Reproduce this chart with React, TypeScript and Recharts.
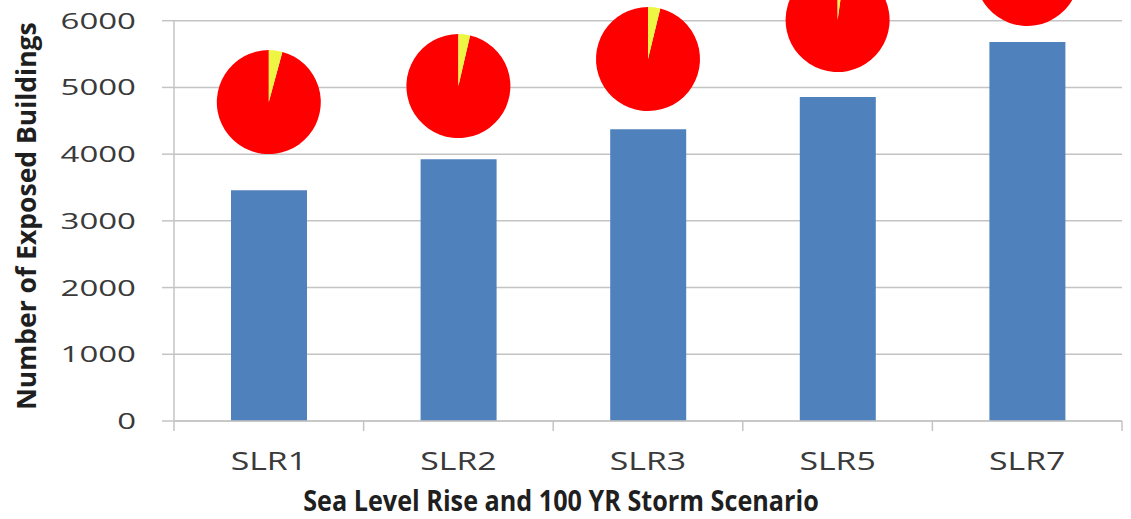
import { Bar, CartesianGrid, ComposedChart, Label, ReferenceLine, Scatter, Sector, XAxis, YAxis } from "recharts";

// scenarios on the x axis
const categories = ["SLR1", "SLR2", "SLR3", "SLR5", "SLR7"];
// exposed buildings per scenario (bar heights)
const buildings = [3460, 3925, 4375, 4855, 5680];
// vertical level (in building units) where each small pie sits
const pieLevel = [4780, 5020, 5425, 6010, 6700];
// yellow share of each pie, rest is red
const yellowShare = [0.042, 0.036, 0.038, 0.022, 0.03];
const yTicks = [0, 1000, 2000, 3000, 4000, 5000, 6000];

const rows = categories.map((name, i) => ({
  name,
  buildings: buildings[i],
  pie: pieLevel[i],
  yellow: yellowShare[i],
}));

const FONT = "'Open Sans', 'DejaVu Sans', sans-serif";
const GRID = "#C4C4C4";
const PIE_R = 52;

function YTick({ x, y, payload }: any) {
  return (
    <g transform={`translate(${x},${y})`}>
      <text transform="scale(1.5,1)" textAnchor="end" dy="0.36em" fontSize={22} fontFamily={FONT} fill="#3a3a3a">
        {payload.value}
      </text>
    </g>
  );
}

// label plus the boundary tick marks (Excel puts ticks between categories)
function XTick({ x, y, payload, index, width, visibleTicksCount }: any) {
  const band = width / visibleTicksCount;
  const top = y - 40;
  return (
    <g>
      <line x1={x - band / 2} x2={x - band / 2} y1={top} y2={top + 10} stroke={GRID} strokeWidth={1.5} />
      {index === visibleTicksCount - 1 && (
        <line x1={x + band / 2} x2={x + band / 2} y1={top} y2={top + 10} stroke={GRID} strokeWidth={1.5} />
      )}
      <g transform={`translate(${x},${y})`}>
        <text transform="scale(1.3,1)" textAnchor="middle" dy="0.36em" fontSize={26} fontFamily={FONT} fill="#3a3a3a">
          {payload.value}
        </text>
      </g>
    </g>
  );
}

function PieMark({ cx, cy, payload }: any) {
  const cut = 90 - payload.yellow * 360;
  return (
    <g>
      <Sector cx={cx} cy={cy} innerRadius={0} outerRadius={PIE_R} startAngle={cut} endAngle={-270} fill="#FF0000" />
      <Sector cx={cx} cy={cy} innerRadius={0} outerRadius={PIE_R} startAngle={90} endAngle={cut} fill="#EEF542" />
    </g>
  );
}

function YTitle({ viewBox }: any) {
  return (
    <text
      transform={`translate(${viewBox.x + 27},${viewBox.y + 262}) rotate(-90)`}
      textAnchor="middle"
      dy="0.35em"
      fontSize={26.5}
      fontWeight={700}
      fontFamily={FONT}
      fill="#1f1f1f"
    >
      Number of Exposed Buildings
    </text>
  );
}

function XTitle({ viewBox }: any) {
  return (
    <text
      transform={`translate(${viewBox.x + 387},${viewBox.y + 80}) scale(0.9,1)`}
      textAnchor="middle"
      dy="0.35em"
      fontSize={28}
      fontWeight={700}
      fontFamily={FONT}
      fill="#1f1f1f"
    >
      Sea Level Rise and 100 YR Storm Scenario
    </text>
  );
}

export default function App() {
  // chart top is pushed above the viewport, like the cropped original
  return (
    <div style={{ position: "absolute", top: -60, left: 0 }}>
      <ComposedChart width={1131} height={579} data={rows} margin={{ top: 14, right: 9, bottom: 0, left: 0 }}>
        <CartesianGrid vertical={false} stroke={GRID} strokeWidth={1.5} />
        <XAxis
          dataKey="name"
          height={98}
          tickSize={0}
          tickLine={false}
          tickMargin={40}
          tick={<XTick />}
          interval={0}
          axisLine={{ stroke: GRID, strokeWidth: 1.5 }}
        >
          <Label content={<XTitle />} />
        </XAxis>
        <YAxis
          width={174}
          domain={[0, 7000]}
          ticks={yTicks}
          tickSize={12}
          tickMargin={26}
          tick={<YTick />}
          tickLine={{ stroke: GRID, strokeWidth: 1.5 }}
          axisLine={false}
        >
          <Label content={<YTitle />} />
        </YAxis>
        {/* value axis line only spans 0..6000, at the left edge of the first band */}
        <ReferenceLine
          segment={[{ x: "SLR1", y: 0 }, { x: "SLR1", y: 6000 }]}
          position="start"
          stroke={GRID}
          strokeWidth={1.5}
        />
        <Bar dataKey="buildings" fill="#4F81BD" barSize={76} isAnimationActive={false} />
        <Scatter dataKey="pie" shape={<PieMark />} isAnimationActive={false} />
      </ComposedChart>
    </div>
  );
}
